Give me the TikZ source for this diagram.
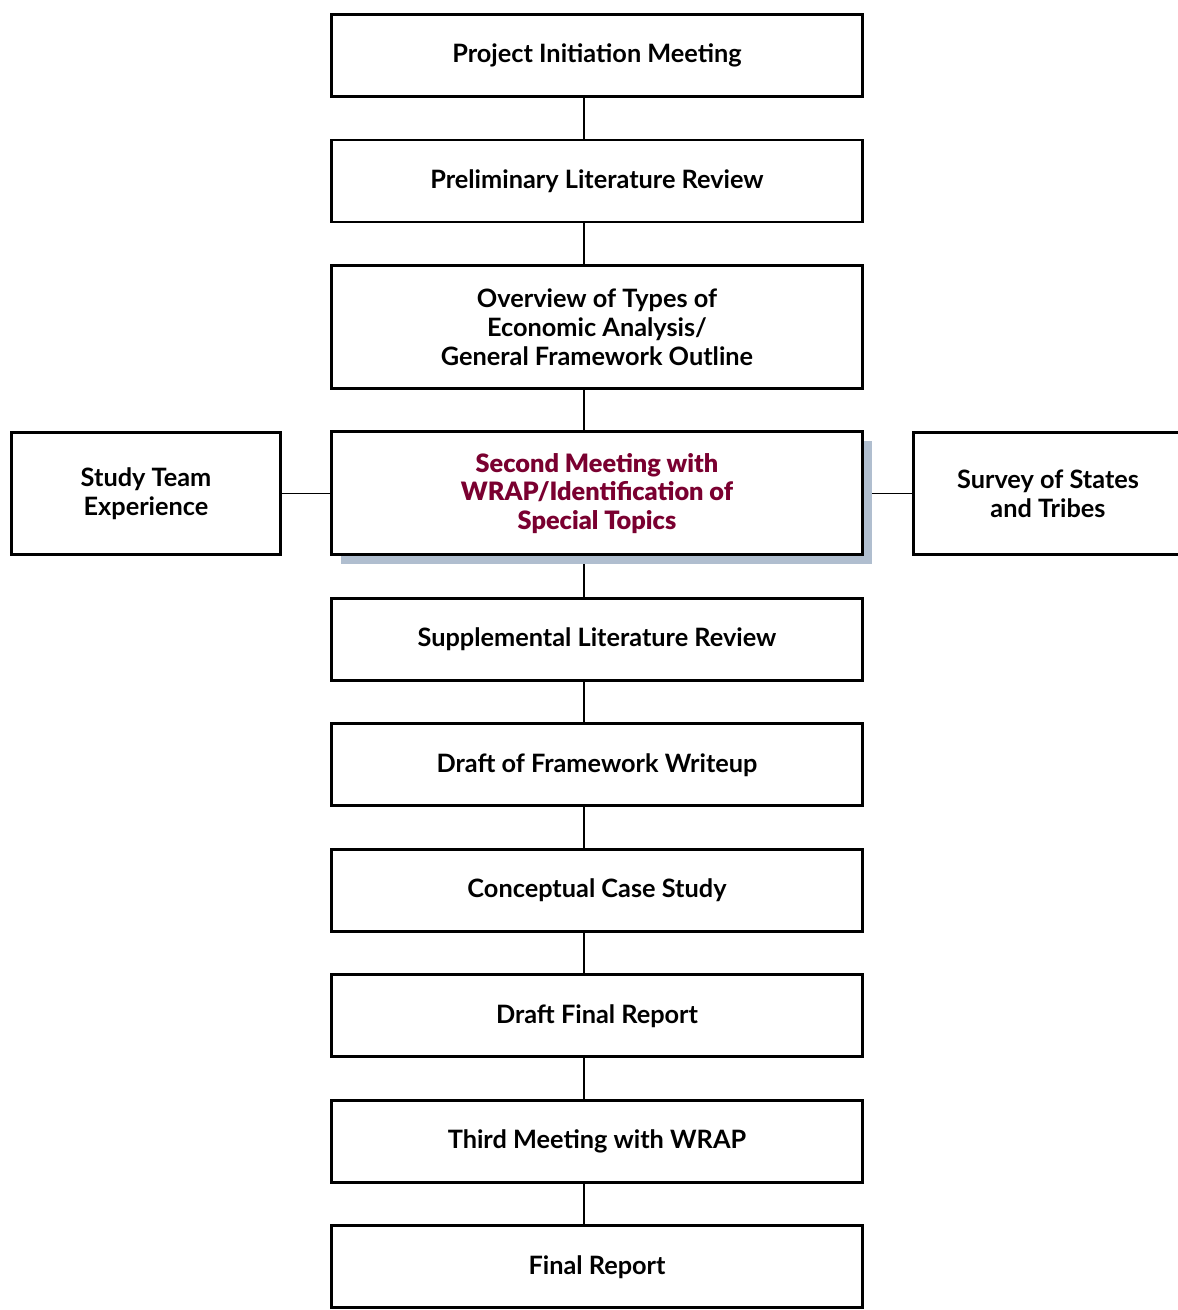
\documentclass[tikz,border=0pt]{standalone}
\usepackage{fontspec}
\setmainfont{Lato}
\newfontfamily\heavyfont{Lato Black}
\usetikzlibrary{positioning,shadows,backgrounds}
\definecolor{wrapred}{RGB}{122,0,48}
\definecolor{shadowblue}{RGB}{176,190,207}
\tikzstyle{stepbox} = [draw, line width=1.7pt, fill=white, minimum width=10.62cm, minimum height=1.64cm, align=center, font=\fontsize{14.4}{16.4}\selectfont\bfseries]
\tikzstyle{tallbox} = [stepbox, minimum height=2.46cm]
\tikzstyle{sidebox} = [stepbox, minimum width=5.38cm, minimum height=2.44cm]
\tikzstyle{link} = [line width=0.85pt]

\begin{document}
\begin{tikzpicture}[-,auto,node distance=0.81cm]

\useasboundingbox (0,0) rectangle (23.56,-26.2);

\node[stepbox] (1) at (11.94,-1.11) {Project Initiation Meeting};
\node[stepbox, below = of 1] (2) {Preliminary Literature Review};
\node[tallbox, below = of 2] (3) {Overview of Types of\\Economic Analysis/\\General Framework Outline};
\node[tallbox, below = of 3, text=wrapred, font=\fontsize{14.4}{16.4}\heavyfont, drop shadow={shadow xshift=0.19cm, shadow yshift=-0.18cm, fill=shadowblue, opacity=1}] (4) {Second Meeting with\\WRAP/Identification of\\Special Topics};
\node[sidebox, left = 0.96cm of 4] (l1) {Study Team\\Experience};
\node[sidebox, right = 0.96cm of 4] (r1) {Survey of States\\and Tribes};
\node[stepbox, below = of 4] (5) {Supplemental Literature Review};
\node[stepbox, below = of 5] (6) {Draft of Framework Writeup};
\node[stepbox, below = of 6] (7) {Conceptual Case Study};
\node[stepbox, below = of 7] (8) {Draft Final Report};
\node[stepbox, below = of 8] (9) {Third Meeting with WRAP};
\node[stepbox, below = of 9] (10) {Final Report};

\begin{scope}[on background layer]
\path[link]
([xshift=-0.26cm]1.south) edge ([xshift=-0.26cm]2.north)
([xshift=-0.26cm]2.south) edge ([xshift=-0.26cm]3.north)
([xshift=-0.26cm]3.south) edge ([xshift=-0.26cm]4.north)
([xshift=-0.26cm]4.south) edge ([xshift=-0.26cm]5.north)
([xshift=-0.26cm]5.south) edge ([xshift=-0.26cm]6.north)
([xshift=-0.26cm]6.south) edge ([xshift=-0.26cm]7.north)
([xshift=-0.26cm]7.south) edge ([xshift=-0.26cm]8.north)
([xshift=-0.26cm]8.south) edge ([xshift=-0.26cm]9.north)
([xshift=-0.26cm]9.south) edge ([xshift=-0.26cm]10.north);

\path[link]
(l1) edge (4)
(4) edge (r1);
\end{scope}

\end{tikzpicture}
\end{document}
